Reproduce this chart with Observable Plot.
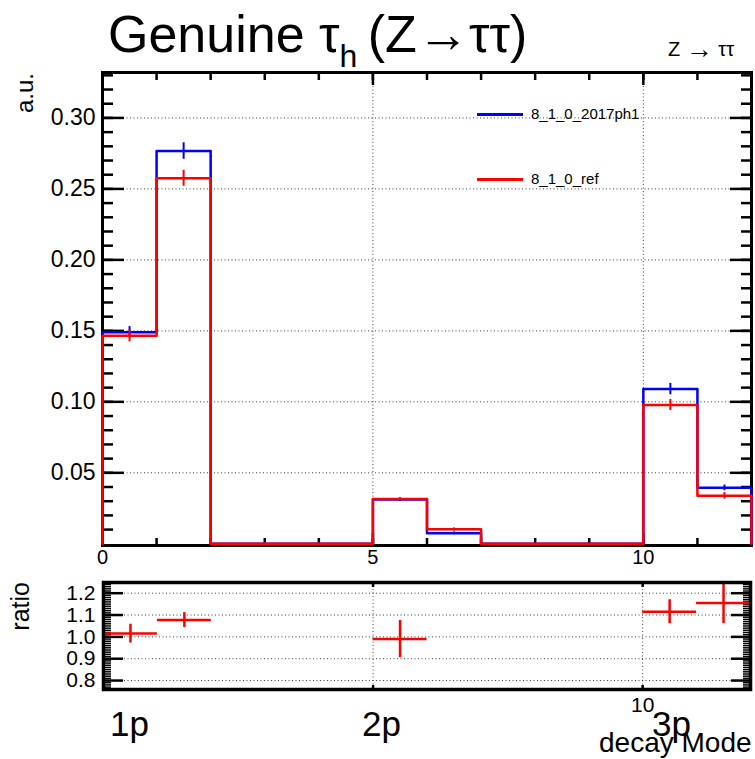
<!DOCTYPE html>
<html><head><meta charset="utf-8">
<script src="https://cdn.jsdelivr.net/npm/d3@7"></script>
<script src="https://cdn.jsdelivr.net/npm/@observablehq/plot@0.6"></script>
<style>
body{margin:0;background:#fff;font-family:"Liberation Sans",Arial,sans-serif;}
#wrap{position:relative;width:755px;height:759px;overflow:hidden;background:#fff;}
#wrap svg{position:absolute;left:0;}
.abs{position:absolute;white-space:nowrap;line-height:1;color:#000;}
</style></head><body><div id="wrap"></div>
<script>
// ---------- data ----------
const binLow   = [0, 1, 2, 3, 4, 5, 6, 7, 8, 9, 10, 11];
const blueVals = [0.149, 0.2767, 0, 0, 0, 0.0312, 0.0074, 0, 0, 0, 0.109, 0.0394];
const blueErr  = [0.004, 0.0058, 0, 0, 0, 0.001, 0.001, 0, 0, 0, 0.004, 0.002];
const redVals  = [0.1466, 0.2575, 0, 0, 0, 0.0315, 0.0102, 0, 0, 0, 0.0978, 0.0338];
const redErr   = [0.0044, 0.0056, 0, 0, 0, 0.001, 0.001, 0, 0, 0, 0.0039, 0.0023];
const ratioBins = [0, 1, 5, 10, 11];
const ratioVals = [1.015, 1.077, 0.99, 1.115, 1.155];
const ratioErr  = [0.043, 0.034, 0.085, 0.055, 0.094];
const mainYTicks = [0.05, 0.10, 0.15, 0.20, 0.25, 0.30];
const mainXTicks = [0, 5, 10];
const ratioYTicks = [0.8, 0.9, 1.0, 1.1, 1.2];
const ratioXLabelTicks = [10];
const seriesNames = ["8_1_0_2017ph1", "8_1_0_ref"];
const seriesColors = ["#0000ff", "#ff0000"];
const modeLabels = ["1p", "2p", "3p"];

// ---------- helpers ----------
const FONT = "Liberation Sans, Arial, sans-serif";
function stepPts(vals) {
  const pts = [{x: 0, y: 0}];
  binLow.forEach((b, i) => pts.push({x: b, y: vals[i]}));
  pts.push({x: 12, y: vals[vals.length - 1]});
  pts.push({x: 12, y: 0});
  return pts;
}
function errPts(vals, errs) {
  return binLow.map((b, i) => ({x: b + 0.5, lo: vals[i] - errs[i], hi: vals[i] + errs[i], e: errs[i]}))
    .filter(d => d.e > 0);
}
const blank = () => "";
const intTicks = d3.range(0, 13);
const minorY = d3.range(1, 34).map(i => i / 100);
const minorR = d3.range(76, 125).map(i => i / 100);

const wrap = document.getElementById("wrap");

// ---------- main plot ----------
const main = Plot.plot({
  width: 755, height: 580,
  marginLeft: 102, marginRight: 4, marginTop: 72, marginBottom: 35,
  x: {domain: [0, 12]},
  y: {domain: [-0.0012, 0.332]},
  style: {fontFamily: FONT, background: "transparent", overflow: "visible"},
  marks: [
    Plot.gridY(mainYTicks, {stroke: "#000", strokeOpacity: 0.75, strokeDasharray: "1,2.5", strokeWidth: 1}),
    Plot.gridX([5, 10], {stroke: "#000", strokeOpacity: 0.75, strokeDasharray: "1,2.5", strokeWidth: 1}),
    // ticks (inward)
    Plot.axisY({anchor: "left", ticks: minorY, tickSize: -11, tickFormat: blank, label: null, strokeWidth: 2.5}),
    Plot.axisY({anchor: "left", ticks: mainYTicks, tickSize: -22, tickFormat: blank, label: null, strokeWidth: 2.5}),
    Plot.axisY({anchor: "right", ticks: minorY, tickSize: -11, tickFormat: blank, label: null, strokeWidth: 2.5}),
    Plot.axisY({anchor: "right", ticks: mainYTicks, tickSize: -22, tickFormat: blank, label: null, strokeWidth: 2.5}),
    Plot.axisX({anchor: "bottom", ticks: intTicks, tickSize: -7, tickFormat: blank, label: null, strokeWidth: 2.5}),
    Plot.axisX({anchor: "bottom", ticks: mainXTicks, tickSize: -12, tickFormat: blank, label: null, strokeWidth: 2.5}),
    Plot.axisX({anchor: "top", ticks: intTicks, tickSize: -7, tickFormat: blank, label: null, strokeWidth: 2.5}),
    Plot.axisX({anchor: "top", ticks: mainXTicks, tickSize: -12, tickFormat: blank, label: null, strokeWidth: 2.5}),
    // labels
    Plot.axisY({anchor: "left", ticks: mainYTicks, tickSize: 0, tickPadding: 7, tickFormat: d3.format(".2f"), fontSize: 23, label: null}),
    Plot.axisX({anchor: "bottom", ticks: mainXTicks, tickSize: 0, tickPadding: 4, fontSize: 20, label: null}),
    Plot.frame({stroke: "#000", strokeWidth: 3}),
    // histograms
    Plot.line(stepPts(blueVals), {x: "x", y: "y", curve: "step-after", stroke: seriesColors[0], strokeWidth: 2.5}),
    Plot.ruleX(errPts(blueVals, blueErr), {x: "x", y1: "lo", y2: "hi", stroke: seriesColors[0], strokeWidth: 2}),
    Plot.line(stepPts(redVals), {x: "x", y: "y", curve: "step-after", stroke: seriesColors[1], strokeWidth: 2.5}),
    Plot.ruleX(errPts(redVals, redErr), {x: "x", y1: "lo", y2: "hi", stroke: seriesColors[1], strokeWidth: 2})
  ]
});
main.style.top = "0px";
wrap.appendChild(main);

// ---------- ratio plot ----------
const ratioData = ratioBins.map((b, i) => ({x0: b, x1: b + 1, xc: b + 0.5, y: ratioVals[i], lo: ratioVals[i] - ratioErr[i], hi: ratioVals[i] + ratioErr[i]}));
const ratio = Plot.plot({
  width: 755, height: 140,
  marginLeft: 103, marginRight: 5, marginTop: 7, marginBottom: 26,
  x: {domain: [0, 12]},
  y: {domain: [0.759, 1.249]},
  style: {fontFamily: FONT, background: "transparent", overflow: "visible"},
  marks: [
    Plot.gridY(ratioYTicks, {stroke: "#000", strokeOpacity: 0.75, strokeDasharray: "1,2.5", strokeWidth: 1}),
    Plot.gridX([5, 10], {stroke: "#000", strokeOpacity: 0.75, strokeDasharray: "1,2.5", strokeWidth: 1}),
    Plot.axisY({anchor: "left", ticks: minorR, tickSize: -8, tickFormat: blank, label: null, strokeWidth: 1.5}),
    Plot.axisY({anchor: "left", ticks: ratioYTicks, tickSize: -20, tickFormat: blank, label: null, strokeWidth: 2.5}),
    Plot.axisY({anchor: "right", ticks: minorR, tickSize: -8, tickFormat: blank, label: null, strokeWidth: 1.5}),
    Plot.axisY({anchor: "right", ticks: ratioYTicks, tickSize: -20, tickFormat: blank, label: null, strokeWidth: 2.5}),
    Plot.axisX({anchor: "bottom", ticks: [0, 5, 10], tickSize: -4, tickFormat: blank, label: null, strokeWidth: 2.5}),
    Plot.axisX({anchor: "top", ticks: [0, 5, 10], tickSize: -4, tickFormat: blank, label: null, strokeWidth: 2.5}),
    Plot.axisY({anchor: "left", ticks: ratioYTicks, tickSize: 0, tickPadding: 8, tickFormat: d3.format(".1f"), fontSize: 21, label: null}),
    Plot.axisX({anchor: "bottom", ticks: ratioXLabelTicks, tickSize: 0, tickPadding: 8, fontSize: 21, label: null}),
    Plot.ruleY(ratioData, {y: "y", x1: "x0", x2: "x1", stroke: "#ff0000", strokeWidth: 2.5, clip: true}),
    Plot.ruleX(ratioData, {x: "xc", y1: "lo", y2: "hi", stroke: "#ff0000", strokeWidth: 2.5, clip: true}),
    Plot.frame({stroke: "#000", strokeWidth: 3.5})
  ]
});
ratio.style.top = "575px";
wrap.appendChild(ratio);

// ---------- text overlays ----------
function addText(html, css) {
  const d = document.createElement("div");
  d.className = "abs";
  d.innerHTML = html;
  Object.assign(d.style, css);
  wrap.appendChild(d);
  return d;
}
addText('Genuine τ<sub style="font-size:32px;vertical-align:-15px;">h</sub>&thinsp;(Z→ττ)',
  {left: "108px", top: "8px", fontSize: "52px"});
addText('Z <span style="font-size:27px;vertical-align:-2px;">→</span> ττ', {left: "668px", top: "36px", fontSize: "20px"});
addText('a.u.', {left: "13px", top: "73px", fontSize: "24px", transformOrigin: "0 0", transform: "rotate(-90deg) translate(-100%, 0)"});
addText('ratio', {left: "8px", top: "582px", fontSize: "25px", transformOrigin: "0 0", transform: "rotate(-90deg) translate(-100%, 0)"});

// legend
const legY = [114, 179];
seriesNames.forEach((name, i) => {
  const ln = document.createElement("div");
  Object.assign(ln.style, {position: "absolute", left: "477px", top: (legY[i] - 1) + "px", width: "46px", height: "2.5px", background: seriesColors[i]});
  wrap.appendChild(ln);
  addText(name, {left: "531px", top: (legY[i] - 8) + "px", fontSize: "15px"});
});

// decay mode labels
const modeLeft = [110, 362, 652];
modeLabels.forEach((t, i) => addText(t, {left: modeLeft[i] + "px", top: "706px", fontSize: "35px"}));
addText('decay Mode', {left: "599px", top: "729px", fontSize: "28px"});
</script>
</body></html>
